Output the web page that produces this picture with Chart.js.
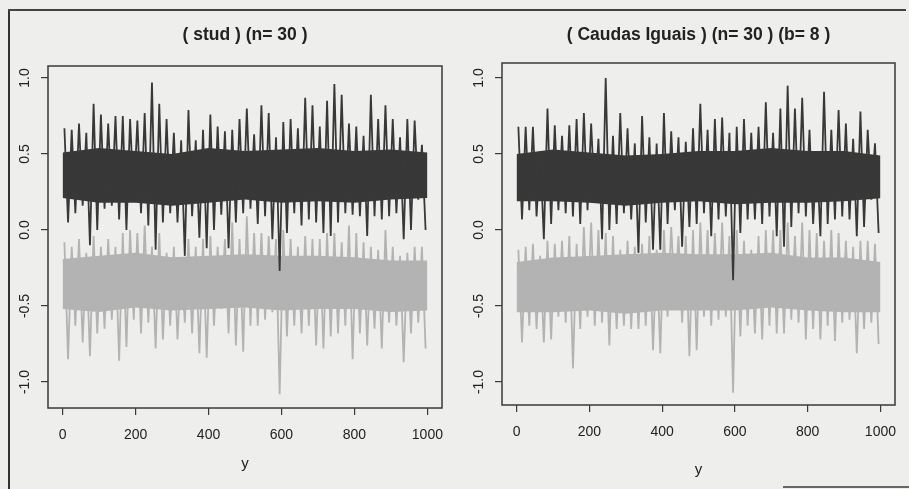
<!DOCTYPE html>
<html>
<head>
<meta charset="utf-8">
<script src="https://cdn.jsdelivr.net/npm/chart.js@4.4.1/dist/chart.umd.min.js"></script>
<style>
  body { margin: 0; background: #eeeeec; width: 909px; height: 489px; overflow: hidden; position: relative; }
  canvas { position: absolute; top: 0; }
  #left { left: 0; }
  #right { left: 460px; }
  .edge { position: absolute; background: #333; }
</style>
</head>
<body>
<div class="edge" style="left:8px;top:9px;width:2px;height:480px;"></div>
<div class="edge" style="left:8px;top:9px;width:898px;height:2px;background:#444;"></div>
<div class="edge" style="left:783px;top:486px;width:126px;height:2px;background:#666;"></div>
<canvas id="left" width="460" height="489"></canvas>
<canvas id="right" width="449" height="489"></canvas>
<script>
// centros de cada grupo de 20 iteraciones (eje x = iteracion)
const binCenters = Array.from({ length: 50 }, (_, i) => 10 + 20 * i);
const coreX = [0, 100, 200, 300, 400, 500, 600, 700, 800, 900, 1000];
const xTicks = [0, 200, 400, 600, 800, 1000];
const yTicks = [-1.0, -0.5, 0.0, 0.5, 1.0];

// panel izquierdo: ( stud ) (n= 30 )  -- maximo / minimo leidos por grupo
const studDarkHi = [0.67,0.66,0.70,0.64,0.83,0.76,0.70,0.75,0.75,0.73,
  0.72,0.77,0.97,0.83,0.73,0.64,0.59,0.79,0.59,0.66,
  0.76,0.68,0.65,0.66,0.73,0.80,0.63,0.82,0.77,0.61,
  0.71,0.73,0.67,0.87,0.82,0.68,0.85,0.96,0.89,0.70,
  0.68,0.62,0.89,0.73,0.82,0.73,0.61,0.73,0.72,0.56];
const studDarkLo = [0.05,0.11,0.16,-0.10,0.00,0.14,0.16,0.07,0.00,0.20,
  0.11,0.03,-0.13,0.05,0.11,0.05,-0.17,0.09,-0.05,-0.12,
  0.00,0.10,-0.12,0.05,0.11,0.14,0.04,0.09,-0.06,-0.27,
  -0.02,0.11,0.03,0.07,0.05,-0.02,-0.04,0.05,0.11,0.10,
  0.09,-0.04,0.09,0.07,0.09,0.11,-0.06,0.00,0.20,0.00];
const studGreyHi = [-0.08,-0.11,-0.06,-0.15,-0.04,-0.11,-0.06,-0.11,-0.02,0.00,
  -0.02,0.03,-0.11,-0.02,-0.15,-0.11,-0.19,-0.06,-0.11,-0.06,
  -0.04,-0.11,-0.06,0.05,-0.06,0.09,-0.02,-0.02,-0.04,-0.06,
  0.00,-0.06,-0.11,-0.04,-0.06,-0.06,-0.02,-0.02,-0.08,0.03,
  -0.02,-0.08,-0.11,-0.13,0.00,-0.11,-0.17,-0.15,-0.11,-0.11];
const studGreyLo = [-0.85,-0.63,-0.74,-0.83,-0.68,-0.65,-0.59,-0.86,-0.77,-0.59,
  -0.68,-0.61,-0.78,-0.72,-0.63,-0.72,-0.61,-0.68,-0.81,-0.84,
  -0.63,-0.52,-0.68,-0.76,-0.80,-0.63,-0.63,-0.59,-0.54,-1.08,
  -0.70,-0.63,-0.68,-0.63,-0.76,-0.78,-0.70,-0.68,-0.63,-0.85,
  -0.68,-0.76,-0.65,-0.78,-0.61,-0.63,-0.87,-0.68,-0.61,-0.78];
// zona densa de cada serie (bordes leidos cada 100 iteraciones)
const studDarkCoreTop = [0.51,0.54,0.52,0.50,0.54,0.52,0.53,0.54,0.52,0.53,0.51];
const studDarkCoreBot = [0.21,0.18,0.18,0.16,0.18,0.20,0.18,0.19,0.18,0.20,0.21];
const studGreyCoreTop = [-0.19,-0.17,-0.15,-0.18,-0.17,-0.16,-0.17,-0.17,-0.18,-0.20,-0.20];
const studGreyCoreBot = [-0.52,-0.54,-0.51,-0.53,-0.52,-0.51,-0.53,-0.52,-0.52,-0.54,-0.53];

// panel derecho: ( Caudas Iguais ) (n= 30 ) (b= 8 )
const caudasDarkHi = [0.68,0.68,0.68,0.52,0.80,0.69,0.62,0.69,0.73,0.77,
  0.70,0.60,1.00,0.62,0.77,0.67,0.57,0.75,0.61,0.57,
  0.77,0.65,0.61,0.58,0.67,0.83,0.66,0.73,0.74,0.64,
  0.68,0.73,0.64,0.68,0.84,0.64,0.80,0.95,0.80,0.87,
  0.66,0.51,0.91,0.66,0.79,0.70,0.60,0.78,0.66,0.57];
const caudasDarkLo = [0.07,0.13,0.09,-0.06,0.04,0.13,0.11,0.09,0.04,0.13,
  0.18,-0.06,0.00,0.04,0.11,0.07,-0.15,0.05,-0.13,-0.13,
  0.04,0.13,-0.11,0.02,0.04,0.11,-0.04,0.07,0.09,-0.33,
  -0.02,0.07,0.07,0.04,0.09,-0.04,-0.11,0.02,0.11,0.09,
  0.04,-0.04,0.04,0.07,0.09,0.07,-0.04,0.02,0.20,-0.02];
const caudasGreyHi = [-0.13,-0.11,-0.09,-0.17,-0.07,-0.09,-0.07,-0.04,-0.09,0.02,
  0.05,0.00,-0.02,-0.04,-0.13,-0.07,-0.11,-0.09,-0.04,-0.13,
  0.00,0.02,-0.04,-0.04,0.00,0.05,0.00,-0.02,0.05,-0.04,
  0.00,-0.07,-0.13,-0.04,0.00,0.00,0.00,0.05,-0.04,0.05,
  0.00,-0.02,-0.07,0.00,-0.02,-0.07,-0.11,-0.07,-0.07,-0.09];
const caudasGreyLo = [-0.74,-0.63,-0.65,-0.74,-0.72,-0.57,-0.61,-0.91,-0.65,-0.57,
  -0.63,-0.61,-0.76,-0.65,-0.63,-0.65,-0.65,-0.63,-0.79,-0.81,
  -0.57,-0.44,-0.61,-0.83,-0.79,-0.57,-0.63,-0.59,-0.57,-1.07,
  -0.70,-0.63,-0.68,-0.72,-0.63,-0.68,-0.68,-0.59,-0.61,-0.72,
  -0.65,-0.72,-0.63,-0.73,-0.61,-0.59,-0.81,-0.65,-0.61,-0.75];
const caudasDarkCoreTop = [0.50,0.53,0.51,0.49,0.50,0.52,0.52,0.54,0.52,0.52,0.49];
const caudasDarkCoreBot = [0.19,0.19,0.18,0.16,0.18,0.19,0.17,0.18,0.18,0.19,0.21];
const caudasGreyCoreTop = [-0.21,-0.18,-0.17,-0.16,-0.15,-0.16,-0.16,-0.15,-0.18,-0.18,-0.21];
const caudasGreyCoreBot = [-0.54,-0.54,-0.53,-0.55,-0.53,-0.53,-0.53,-0.51,-0.53,-0.54,-0.54];

const INK = '#3a3a3a';
const DARK = '#383838';
const GREY = '#b3b3b3';
const FONT = "'Liberation Sans', Arial, sans-serif";

// cada grupo: maximo y luego minimo -> linea en zigzag
function zigzag(hi, lo) {
  const pts = [];
  binCenters.forEach((c, i) => {
    pts.push({ x: c - 5, y: hi[i] });
    pts.push({ x: c + 5, y: lo[i] });
  });
  return pts;
}
const pairs = ys => coreX.map((x, i) => ({ x, y: ys[i] }));

const boxPlugin = {
  id: 'box',
  afterDraw(chart) {
    const { ctx, chartArea: a, scales } = chart;
    ctx.save();
    ctx.strokeStyle = INK;
    ctx.lineWidth = 1.5;
    ctx.strokeRect(a.left, a.top, a.right - a.left, a.bottom - a.top);
    // etiquetas del eje y giradas, como en R
    ctx.fillStyle = '#222';
    ctx.font = '14px ' + FONT;
    ctx.textAlign = 'center';
    ctx.textBaseline = 'middle';
    yTicks.forEach(v => {
      ctx.save();
      ctx.translate(a.left - 23, scales.y.getPixelForValue(v));
      ctx.rotate(-Math.PI / 2);
      ctx.fillText(v.toFixed(1), 0, 0);
      ctx.restore();
    });
    ctx.restore();
  }
};

function makePanel(id, title, s, o) {
  new Chart(document.getElementById(id), {
    type: 'line',
    data: {
      datasets: [
        { data: zigzag(s.darkHi, s.darkLo), borderColor: DARK, borderWidth: 1.8, pointRadius: 0, order: 0 },
        { data: pairs(s.darkCoreTop), borderWidth: 0, pointRadius: 0, backgroundColor: DARK, fill: '+1', order: 1 },
        { data: pairs(s.darkCoreBot), borderWidth: 0, pointRadius: 0, fill: false, order: 1 },
        { data: zigzag(s.greyHi, s.greyLo), borderColor: GREY, borderWidth: 1.8, pointRadius: 0, order: 2 },
        { data: pairs(s.greyCoreTop), borderWidth: 0, pointRadius: 0, backgroundColor: GREY, fill: '+1', order: 3 },
        { data: pairs(s.greyCoreBot), borderWidth: 0, pointRadius: 0, fill: false, order: 3 }
      ]
    },
    options: {
      responsive: false,
      animation: false,
      layout: { padding: { left: 0, right: o.padRight, top: 0, bottom: 0 } },
      plugins: {
        legend: { display: false },
        tooltip: { enabled: false },
        title: {
          display: true, text: title, fullSize: false, color: '#222',
          font: { family: FONT, size: 17.5, weight: 'bold' },
          padding: { top: 24.5, bottom: o.titleBottom }
        }
      },
      scales: {
        x: {
          type: 'linear', min: -40, max: 1040,
          afterBuildTicks: sc => { sc.ticks = xTicks.map(v => ({ value: v })); },
          afterFit: sc => { sc.height = o.xHeight; },
          grid: { drawOnChartArea: false, drawTicks: true, tickLength: 7, color: INK, lineWidth: 1.2 },
          border: { display: false },
          ticks: { color: '#222', padding: 12, maxRotation: 0, font: { family: FONT, size: 14 }, callback: v => String(v) },
          title: { display: true, text: 'y', color: '#222', font: { family: FONT, size: 15 }, padding: { top: 0, bottom: o.yTitleBottom } }
        },
        y: {
          type: 'linear', min: o.yMin, max: o.yMax,
          afterBuildTicks: sc => { sc.ticks = yTicks.map(v => ({ value: v })); },
          afterFit: sc => { sc.width = o.yWidth; },
          grid: { drawOnChartArea: false, drawTicks: true, tickLength: 7, color: INK, lineWidth: 1.2 },
          border: { display: false },
          ticks: { display: false }
        }
      }
    },
    plugins: [boxPlugin]
  });
}

makePanel('left', '( stud ) (n= 30 )',
  { darkHi: studDarkHi, darkLo: studDarkLo, greyHi: studGreyHi, greyLo: studGreyLo,
    darkCoreTop: studDarkCoreTop, darkCoreBot: studDarkCoreBot, greyCoreTop: studGreyCoreTop, greyCoreBot: studGreyCoreBot },
  { padRight: 18, titleBottom: 20.5, xHeight: 81, yWidth: 48, yMin: -1.171, yMax: 1.079, yTitleBottom: 16.6 });
makePanel('right', '( Caudas Iguais ) (n= 30 ) (b= 8 )',
  { darkHi: caudasDarkHi, darkLo: caudasDarkLo, greyHi: caudasGreyHi, greyLo: caudasGreyLo,
    darkCoreTop: caudasDarkCoreTop, darkCoreBot: caudasDarkCoreBot, greyCoreTop: caudasGreyCoreTop, greyCoreBot: caudasGreyCoreBot },
  { padRight: 14, titleBottom: 17.5, xHeight: 84, yWidth: 42, yMin: -1.151, yMax: 1.099, yTitleBottom: 10.6 });
</script>
</body>
</html>
